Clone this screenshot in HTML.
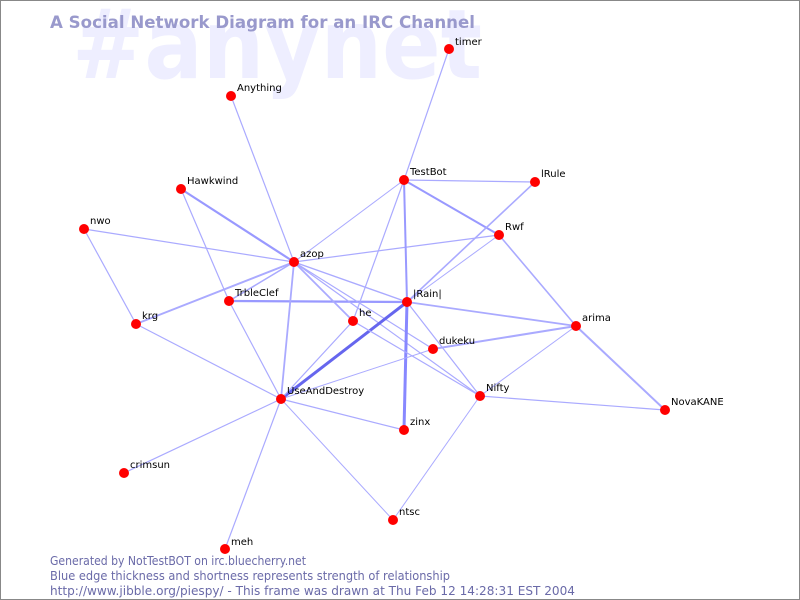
<!DOCTYPE html>
<html><head><meta charset="utf-8"><style>html,body{margin:0;padding:0;background:#fff}svg{display:block}</style></head><body>
<svg width="800" height="600" xmlns="http://www.w3.org/2000/svg" font-family="'DejaVu Sans','Liberation Sans',sans-serif">
<rect x="0.5" y="0.5" width="799" height="599" fill="#fff" stroke="#888"/>
<text x="72" y="78" font-size="96" font-weight="bold" fill="#eeeeff" textLength="410" lengthAdjust="spacingAndGlyphs">#anynet</text>
<text x="50" y="28" font-size="17" font-weight="bold" fill="#9999cc" textLength="425" lengthAdjust="spacingAndGlyphs">A Social Network Diagram for an IRC Channel</text>
<g stroke="#aaaaff" stroke-width="1.2" fill="none">
<line x1="449" y1="49" x2="404" y2="180"/>
<line x1="231" y1="96" x2="294" y2="262"/>
<line x1="181" y1="189" x2="294" y2="262" stroke-width="2.2" stroke="#9999ff"/>
<line x1="181" y1="189" x2="229" y2="301"/>
<line x1="229" y1="301" x2="281" y2="399"/>
<line x1="84" y1="229" x2="294" y2="262"/>
<line x1="84" y1="229" x2="136" y2="324"/>
<line x1="136" y1="324" x2="294" y2="262" stroke-width="2"/>
<line x1="136" y1="324" x2="281" y2="399"/>
<line x1="229" y1="301" x2="294" y2="262" stroke-width="1.6"/>
<line x1="229" y1="301" x2="407" y2="302" stroke-width="2.2" stroke="#9999ff"/>
<line x1="294" y1="262" x2="281" y2="399" stroke-width="1.8"/>
<line x1="294" y1="262" x2="499" y2="235"/>
<line x1="294" y1="262" x2="353" y2="321" stroke-width="1.8"/>
<line x1="294" y1="262" x2="407" y2="302" stroke-width="1.4"/>
<line x1="294" y1="262" x2="433" y2="349"/>
<line x1="294" y1="262" x2="480" y2="396"/>
<line x1="294" y1="262" x2="404" y2="180" stroke-width="1"/>
<line x1="404" y1="180" x2="407" y2="302" stroke-width="2" stroke="#9999ff"/>
<line x1="404" y1="180" x2="535" y2="182"/>
<line x1="404" y1="180" x2="499" y2="235" stroke-width="2" stroke="#9999ff"/>
<line x1="404" y1="180" x2="353" y2="321"/>
<line x1="535" y1="182" x2="407" y2="302" stroke-width="1.6"/>
<line x1="499" y1="235" x2="407" y2="302" stroke-width="1"/>
<line x1="499" y1="235" x2="576" y2="326" stroke-width="1.6"/>
<line x1="407" y1="302" x2="281" y2="399" stroke-width="3" stroke="#6666ee"/>
<line x1="407" y1="302" x2="404" y2="430" stroke-width="3" stroke="#8888ff"/>
<line x1="407" y1="302" x2="576" y2="326" stroke-width="1.8"/>
<line x1="407" y1="302" x2="480" y2="396"/>
<line x1="353" y1="321" x2="480" y2="396"/>
<line x1="353" y1="321" x2="281" y2="399"/>
<line x1="433" y1="349" x2="576" y2="326" stroke-width="2"/>
<line x1="433" y1="349" x2="281" y2="399" stroke-width="1"/>
<line x1="576" y1="326" x2="480" y2="396" stroke-width="1"/>
<line x1="576" y1="326" x2="665" y2="410" stroke-width="2"/>
<line x1="480" y1="396" x2="665" y2="410"/>
<line x1="480" y1="396" x2="393" y2="520" stroke-width="1"/>
<line x1="281" y1="399" x2="404" y2="430"/>
<line x1="281" y1="399" x2="124" y2="473"/>
<line x1="281" y1="399" x2="225" y2="549"/>
<line x1="281" y1="399" x2="393" y2="520" stroke-width="1"/>
</g>
<g fill="#ff0000">
<circle cx="449" cy="49" r="5"/><circle cx="231" cy="96" r="5"/><circle cx="181" cy="189" r="5"/>
<circle cx="84" cy="229" r="5"/><circle cx="294" cy="262" r="5"/><circle cx="229" cy="301" r="5"/>
<circle cx="136" cy="324" r="5"/><circle cx="404" cy="180" r="5"/><circle cx="535" cy="182" r="5"/>
<circle cx="499" cy="235" r="5"/><circle cx="407" cy="302" r="5"/><circle cx="353" cy="321" r="5"/>
<circle cx="433" cy="349" r="5"/><circle cx="576" cy="326" r="5"/><circle cx="480" cy="396" r="5"/>
<circle cx="665" cy="410" r="5"/><circle cx="281" cy="399" r="5"/><circle cx="404" cy="430" r="5"/>
<circle cx="124" cy="473" r="5"/><circle cx="393" cy="520" r="5"/><circle cx="225" cy="549" r="5"/>
</g>
<g font-size="10" fill="#000">
<text x="455" y="45">timer</text><text x="237" y="91">Anything</text><text x="187" y="184">Hawkwind</text>
<text x="90" y="224">nwo</text><text x="300" y="257">azop</text><text x="235" y="296">TrbleClef</text>
<text x="142" y="319">krg</text><text x="410" y="175">TestBot</text><text x="541" y="177">lRule</text>
<text x="505" y="230">Rwf</text><text x="413" y="297">|Rain|</text><text x="359" y="316">he</text>
<text x="439" y="344">dukeku</text><text x="582" y="321">arima</text><text x="486" y="391">Nifty</text>
<text x="671" y="405">NovaKANE</text><text x="287" y="394">UseAndDestroy</text><text x="410" y="425">zinx</text>
<text x="130" y="468">crimsun</text><text x="399" y="515">ntsc</text><text x="231" y="545">meh</text>
</g>
<g font-size="12" fill="#6a6aa8">
<text x="50" y="565" textLength="256" lengthAdjust="spacingAndGlyphs">Generated by NotTestBOT on irc.bluecherry.net</text>
<text x="50" y="580" textLength="400" lengthAdjust="spacingAndGlyphs">Blue edge thickness and shortness represents strength of relationship</text>
<text x="50" y="595" textLength="525" lengthAdjust="spacingAndGlyphs">http://www.jibble.org/piespy/ - This frame was drawn at Thu Feb 12 14:28:31 EST 2004</text>
</g>
</svg>
</body></html>
